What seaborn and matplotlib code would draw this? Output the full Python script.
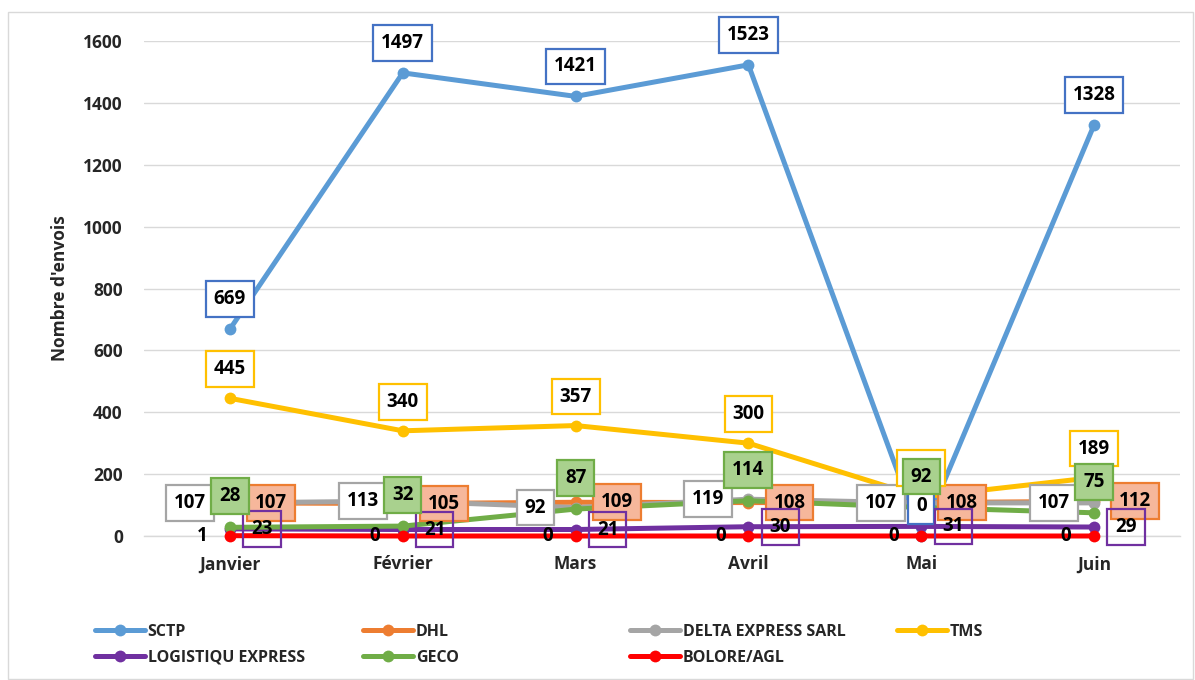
import matplotlib
matplotlib.use("Agg")
import matplotlib.pyplot as plt
import seaborn as sns
import pandas as pd
from matplotlib.lines import Line2D
from matplotlib.patches import Rectangle

# ---------------- data ----------------
months = ["Janvier", "Février", "Mars", "Avril", "Mai", "Juin"]
sctp = [669, 1497, 1421, 1523, 0, 1328]
dhl = [107, 105, 109, 108, 108, 112]
delta = [107, 113, 92, 119, 107, 107]
tms = [445, 340, 357, 300, 126, 189]
logistiqu = [23, 21, 21, 30, 31, 29]
geco = [28, 32, 87, 114, 92, 75]
bolore = [1, 0, 0, 0, 0, 0]
series_names = ["SCTP", "DHL", "DELTA EXPRESS SARL", "TMS",
                "LOGISTIQU EXPRESS", "GECO", "BOLORE/AGL"]
series_values = [sctp, dhl, delta, tms, logistiqu, geco, bolore]
y_ticks = [0, 200, 400, 600, 800, 1000, 1200, 1400, 1600]
y_title = "Nombre d'envois"

# ---------------- styles ----------------
line_colors = {
    "SCTP": "#5B9BD5", "DHL": "#ED7D31", "DELTA EXPRESS SARL": "#A5A5A5",
    "TMS": "#FFC000", "LOGISTIQU EXPRESS": "#7030A0", "GECO": "#70AD47",
    "BOLORE/AGL": "#FF0000",
}
# (dx px, dy px, face, edge)
label_style = {
    "SCTP": (0, 30, "white", "#4472C4"),
    "DHL": (41, 0, "#F6B79B", "#ED7D31"),
    "DELTA EXPRESS SARL": (-40, 0, "white", "#A5A5A5"),
    "TMS": (0, 29, "white", "#FFC000"),
    "LOGISTIQU EXPRESS": (32, 0, "none", "#7030A0"),
    "GECO": (0, 31, "#A9D18E", "#70AD47"),
    "BOLORE/AGL": (-28, 0, None, None),
}

rows = []
for name, vals in zip(series_names, series_values):
    for i, (m, v) in enumerate(zip(months, vals)):
        rows.append({"serie": name, "pos": i, "mois": m, "valeur": v})
df = pd.DataFrame(rows)

sns.set_theme(style="white")
FONT = ["Open Sans", "DejaVu Sans"]
plt.rcParams["font.family"] = FONT
plt.rcParams["font.weight"] = "bold"

W, H = 1195, 680
fig, ax = plt.subplots(figsize=(W / 100, H / 100), dpi=100)
fig.subplots_adjust(left=143.6 / W, right=1180.4 / W, bottom=1 - 536 / H, top=1 - 41 / H)

sns.lineplot(data=df, x="pos", y="valeur", hue="serie", hue_order=series_names,
             palette=line_colors, marker="o", markersize=8.5, markeredgewidth=0,
             linewidth=3.6, sort=False, legend=False, ax=ax, clip_on=False)
for ln in ax.lines:
    ln.set_zorder(3)

# data labels
for k, (name, vals) in enumerate(zip(series_names, series_values)):
    dx, dy, fc, ec = label_style[name]
    for i, v in enumerate(vals):
        bbox = None
        if fc is not None:
            bbox = dict(boxstyle="square,pad=0.42", fc=fc, ec=ec, lw=1.6)
        ax.annotate(str(v), (i, v), xytext=(dx, dy), textcoords="offset pixels",
                    ha="center", va="center", fontsize=13.5, fontweight="bold",
                    color="black", bbox=bbox, zorder=20 + k, annotation_clip=False)

ax.set_xlim(-0.5, len(months) - 0.5)
ax.set_ylim(0, 1600)
ax.set_xticks(range(len(months)))
ax.set_xticklabels(months, fontsize=12.5, fontweight="bold")
ax.set_yticks(y_ticks)
ax.set_yticklabels([str(t) for t in y_ticks], fontsize=12.5, fontweight="bold")
ax.tick_params(axis="y", length=0, pad=15)
ax.tick_params(axis="x", length=0, pad=14)
ax.grid(axis="y", color="#D9D9D9", linewidth=1)
ax.set_axisbelow(True)
for s in ["left", "right", "top"]:
    ax.spines[s].set_visible(False)
ax.spines["bottom"].set_color("#D9D9D9")
ax.spines["bottom"].set_linewidth(1)
ax.spines["bottom"].set_zorder(0.5)
ax.set_xlabel("")
ax.set_ylabel(y_title, fontsize=12.5, fontweight="bold")
ax.yaxis.set_label_coords((69 - 143.6) / (1180.4 - 143.6), 0.5)

# legend (4 columns, row-major order)
def handle(name):
    return Line2D([], [], color=line_colors[name], linewidth=3.6, marker="o",
                  markersize=8.5, markeredgewidth=0)

cols = [["SCTP", "LOGISTIQU EXPRESS"], ["DHL", "GECO"],
        ["DELTA EXPRESS SARL", "BOLORE/AGL"], ["TMS"]]
col_x = [95, 363, 630, 897]
for names, x in zip(cols, col_x):
    fig.legend(handles=[handle(n) for n in names], labels=names,
               loc="upper left", bbox_to_anchor=(x / W, 1 - 624 / H),
               frameon=False, handlelength=3.1, handletextpad=0.2,
               labelspacing=0.6, borderpad=0, borderaxespad=0,
               prop={"family": FONT, "weight": "bold", "size": 11.5})

fig.patches.append(Rectangle((8 / W, 1 / H), 1185 / W, 667 / H, transform=fig.transFigure,
                             fill=False, edgecolor="#D9D9D9", linewidth=1))

fig.savefig("out.png", dpi=100)
